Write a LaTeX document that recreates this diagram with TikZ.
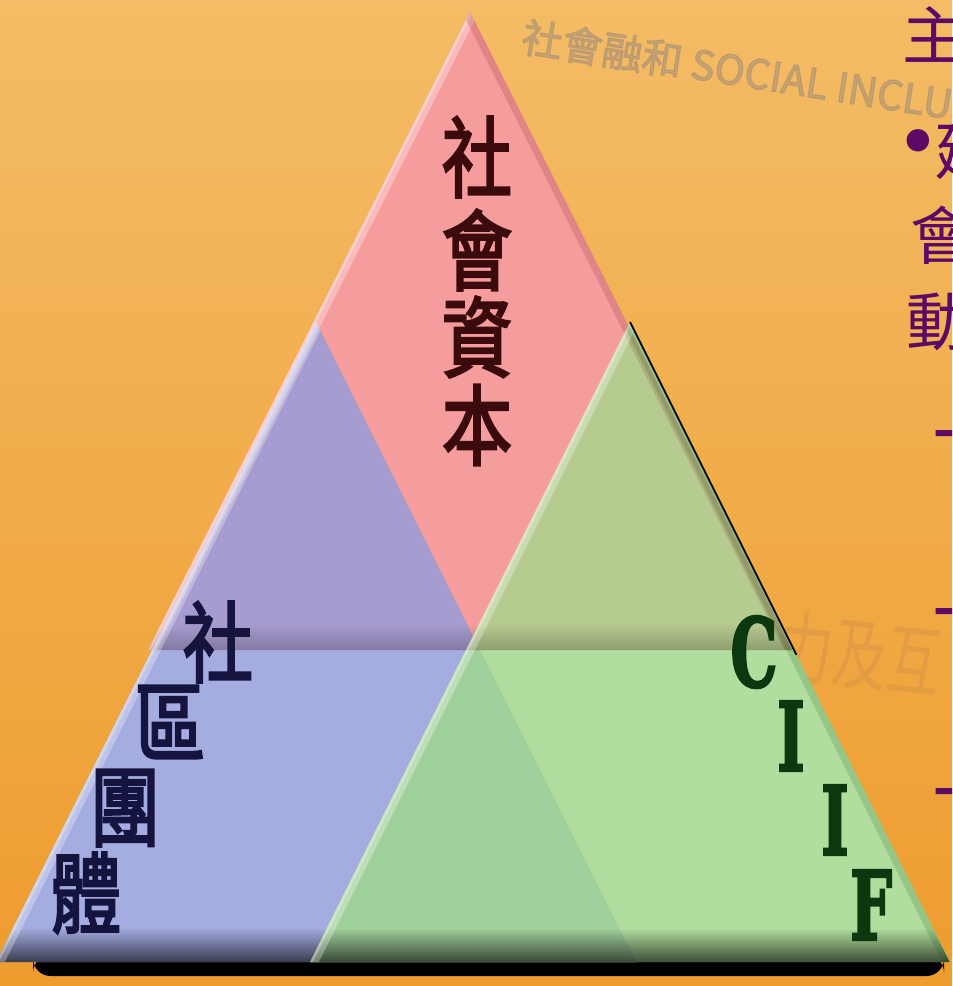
\documentclass[tikz,border=0pt]{standalone}
\usepackage{fontspec}
\usetikzlibrary{positioning, fadings, calc}
\newfontfamily\cjk{Noto Sans CJK TC}
\newfontfamily\cjkgrueso[FakeBold=3]{Noto Sans CJK TC}
\newfontfamily\serifgrueso[FakeBold=3]{DejaVu Serif}
\newfontfamily\vineta{DejaVu Sans}

\definecolor{fondoclaro}{HTML}{F4BC66}
\definecolor{fondooscuro}{HTML}{EE9C2E}
\definecolor{marca}{HTML}{A08C78}
\definecolor{marca2}{HTML}{C88A48}
\definecolor{rosa}{HTML}{F59D9D}
\definecolor{lila}{HTML}{A79CCF}
\definecolor{azul}{HTML}{A4ACE0}
\definecolor{oliva}{HTML}{B6CB90}
\definecolor{verde}{HTML}{B1DE9E}
\definecolor{verdeosc}{HTML}{A0D09B}
\definecolor{granate}{HTML}{3A0A0C}
\definecolor{marino}{HTML}{14143F}
\definecolor{pino}{HTML}{0B380E}
\definecolor{morado}{HTML}{5C0A66}

\tikzfading[name=sombra abajo, top color=transparent!100, bottom color=transparent!0]

\tikzset{
  caracter/.style={inner sep=0pt, font=\cjkgrueso\fontsize{25}{25}\selectfont, xscale=0.8},
  capital/.style={caracter, text=granate},
  comunidad/.style={caracter, text=marino},
  letraciif/.style={inner sep=0pt, text=pino, font=\serifgrueso\bfseries\fontsize{27}{27}\selectfont, xscale=0.62},
  diapositiva/.style={inner sep=0pt, text=morado, font=\cjk\fontsize{18}{18}\selectfont, anchor=west},
  guion/.style={diapositiva, font=\cjkgrueso\fontsize{18}{18}\selectfont},
  brillo/.style={white, line width=4.5pt, opacity=0.3},
}

\begin{document}
\begin{tikzpicture}[x=0.01cm, y=-0.01cm]
  \useasboundingbox (0,0) rectangle (952,986);
  \clip (0,0) rectangle (952,986);

  % fondo
  \shade[top color=fondoclaro, bottom color=fondooscuro] (0,0) rectangle (952,986);

  % marcas de agua
  \node[text=marca, opacity=0.5, rotate=-9, anchor=west, inner sep=0pt,
        font=\cjkgrueso\fontsize{11.5}{11.5}\selectfont] (marcaTop) at (522,36)
        {社會融和 SOCIAL INCLUSION};
  \node[text=marca2, opacity=0.35, rotate=-6, anchor=west, inner sep=0pt, xscale=0.7,
        font=\cjk\fontsize{22}{22}\selectfont] (marcaMid) at (725,640) {努力及互};

  % vértices
  \coordinate (rosaA) at (470,12);
  \coordinate (rosaB) at (148,650);
  \coordinate (rosaC) at (792,650);
  \coordinate (azulA) at (316,322);
  \coordinate (azulB) at (-4,962);
  \coordinate (azulC) at (636,962);
  \coordinate (verdeA) at (630,322);
  \coordinate (verdeB) at (310,962);
  \coordinate (verdeC) at (950,962);

  % sombra negra
  \fill[black, rounded corners=5] (33,955) rectangle (944,976);

  % triángulos de abajo
  \fill[azul] (azulA) -- (azulB) -- (azulC) -- cycle;
  \fill[verde] (verdeA) -- (verdeB) -- (verdeC) -- cycle;
  \begin{scope}
    \clip (azulA) -- (azulB) -- (azulC) -- cycle;
    \fill[verdeosc] (verdeA) -- (verdeB) -- (verdeC) -- cycle;
  \end{scope}

  % triángulo de arriba
  \fill[rosa] (rosaA) -- (rosaB) -- (rosaC) -- cycle;
  \begin{scope}
    \clip (rosaA) -- (rosaB) -- (rosaC) -- cycle;
    \fill[lila] (azulA) -- (azulB) -- (azulC) -- cycle;
    \fill[oliva] (verdeA) -- (verdeB) -- (verdeC) -- cycle;
  \end{scope}

  % relieve
  \fill[black, opacity=0.65, path fading=sombra abajo]
    (13,928) -- (933,928) -- (950,962) -- (-4,962) -- cycle;
  \fill[black, opacity=0.22, path fading=sombra abajo]
    (161,624) -- (779,624) -- (792,650) -- (148,650) -- cycle;
  \begin{scope}
    \clip (rosaA) -- (rosaB) -- (rosaC) -- cycle;
    \draw[brillo] (rosaA) -- (rosaB);
    \draw[brillo, line width=1.5pt] (rosaA) -- (rosaB);
    \draw[red!40!black, line width=4pt, opacity=0.15] (rosaA) -- (rosaC);
  \end{scope}
  \begin{scope}
    \clip (azulA) -- (azulB) -- (azulC) -- cycle;
    \draw[brillo] (azulA) -- (azulB);
    \draw[brillo, line width=1.5pt] (azulA) -- (azulB);
  \end{scope}
  \begin{scope}
    \clip (verdeA) -- (verdeB) -- (verdeC) -- cycle;
    \draw[brillo] (verdeA) -- (verdeB);
    \draw[brillo, line width=1.5pt] (verdeA) -- (verdeB);
    \draw[green!25!black, line width=4pt, opacity=0.15] (verdeA) -- (verdeC);
  \end{scope}
  \draw[black, line width=0.5pt] (verdeA) -- ($(verdeA)!0.52!(verdeC)$);

  % 社會資本
  \node[capital] (cap1) at (477,157) {社};
  \node[capital] (cap2) at (477,250) {會};
  \node[capital] (cap3) at (477,337) {資};
  \node[capital] (cap4) at (477,425) {本};

  % 社區團體
  \node[comunidad] (com1) at (218,642) {社};
  \node[comunidad] (com2) at (170,722) {區};
  \node[comunidad] (com3) at (125,808) {團};
  \node[comunidad] (com4) at (86,893) {體};

  % CIIF
  \node[letraciif] (ciif1) at (754,652) {C};
  \node[letraciif] (ciif2) at (791,736) {I};
  \node[letraciif] (ciif3) at (835,820) {I};
  \node[letraciif] (ciif4) at (871,905) {F};

  % texto de la diapositiva
  \node[diapositiva] (titulo) at (902,35) {主};
  \node[diapositiva, font=\vineta\fontsize{22}{22}\selectfont] (punto) at (895,150) {•};
  \node[diapositiva] (linea1) at (934,150) {建};
  \node[diapositiva] (linea2) at (910,235) {會};
  \node[diapositiva] (linea3) at (906,322) {動};
  \node[guion] (guion1) at (933,441) {–};
  \node[guion] (guion2) at (933,619) {–};
  \node[guion] (guion3) at (933,799) {–};
\end{tikzpicture}
\end{document}
